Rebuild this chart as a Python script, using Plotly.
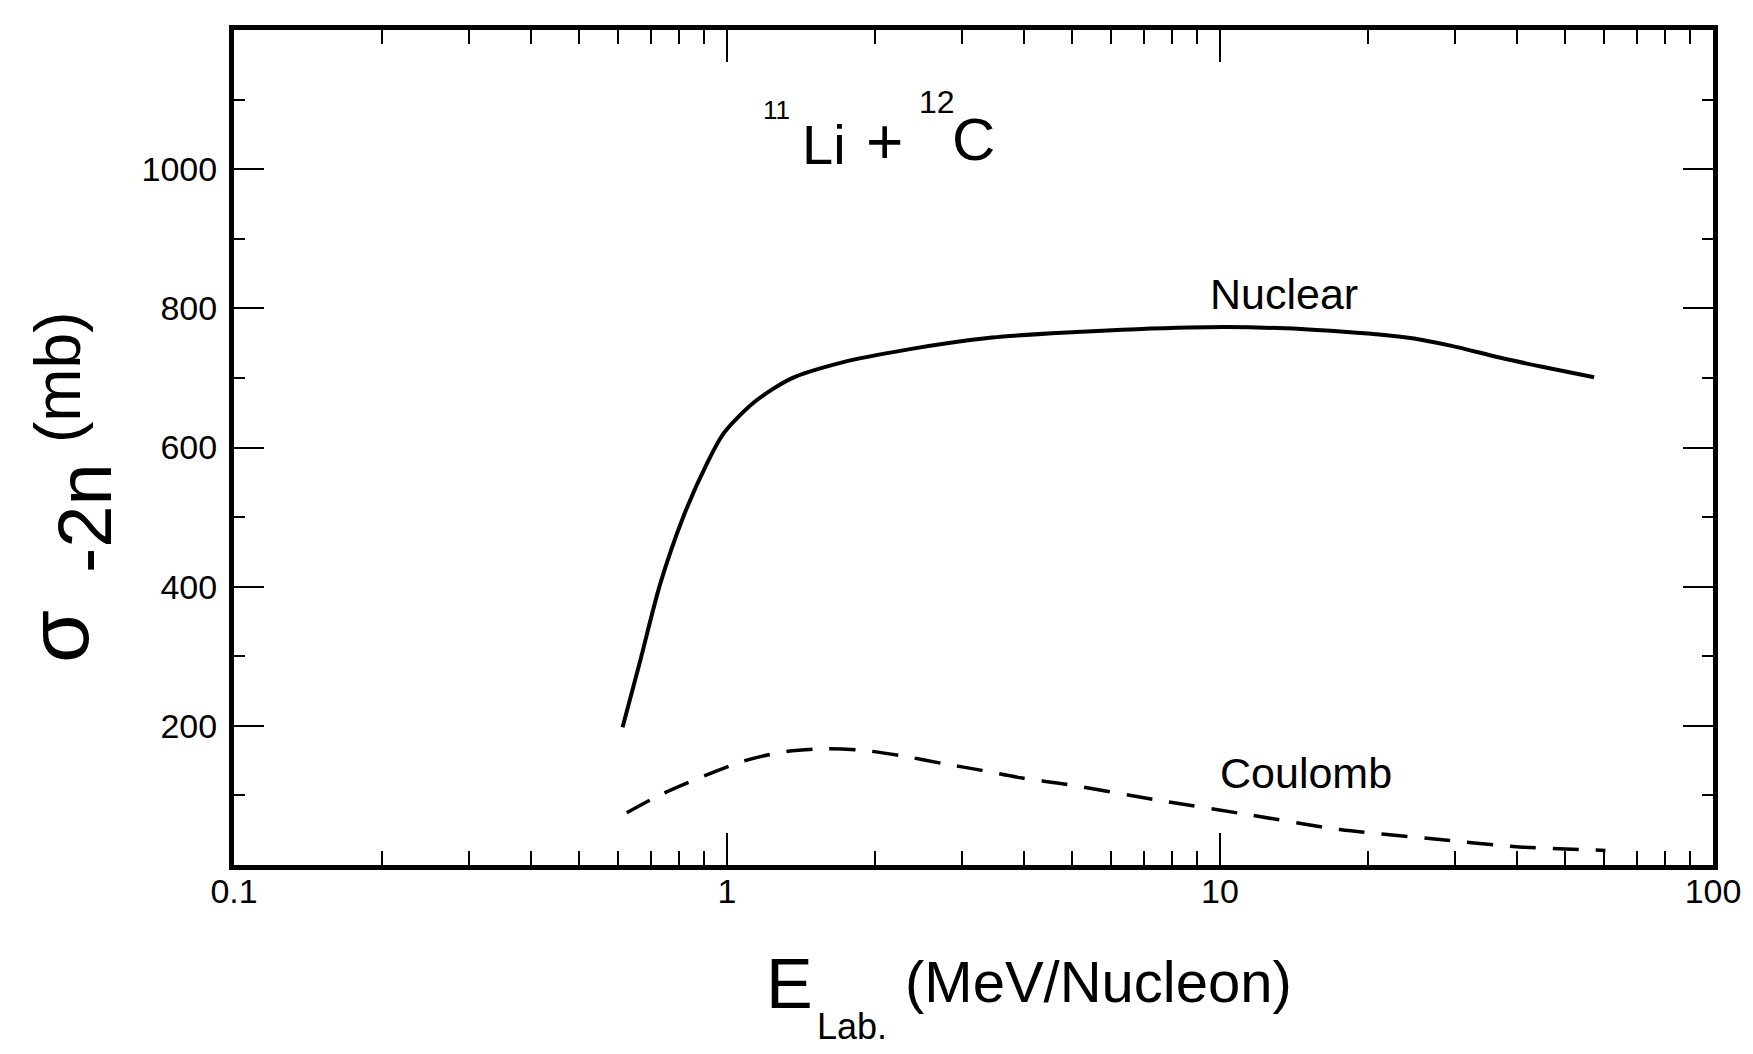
import plotly.graph_objects as go

# ---- data ----
nuclear_E = [0.614, 0.667, 0.732, 0.817, 0.912, 0.986, 1.135, 1.349, 1.706, 2.334,
             3.45, 5.11, 6.77, 10.3, 15.7, 23.9, 29.5, 36.5, 45.0, 57.4]
nuclear_sigma = [198, 294, 404, 502, 578, 621, 665, 699, 722, 741,
                 758, 766, 770, 773, 769, 758, 746, 730, 716, 701]

coulomb_E = [0.626, 0.733, 0.87, 1.066, 1.287, 1.578, 1.875, 2.26, 2.73, 3.29,
             3.97, 4.87, 7.52, 11.5, 17.5, 26.6, 40.5, 60.5]
coulomb_sigma = [75, 101, 124, 148, 162, 167, 165, 157, 146, 136,
                 125, 116, 93, 72, 51, 38, 26, 21]

x_tickvals = [0.1, 1, 10, 100]
x_ticktext = ["0.1", "1", "10", "100"]
x_minor = [m * d for d in (0.1, 1, 10) for m in range(2, 10)]
y_tickvals = [200, 400, 600, 800, 1000]
y_ticktext = ["200", "400", "600", "800", "1000"]
y_minor = [100, 300, 500, 700, 900, 1100]

FONT = "Liberation Sans, Arial, sans-serif"

fig = go.Figure()
fig.add_trace(go.Scatter(x=nuclear_E, y=nuclear_sigma, mode="lines",
                         line=dict(color="black", width=4, shape="spline", smoothing=0.8),
                         name="Nuclear", showlegend=False))
fig.add_trace(go.Scatter(x=coulomb_E, y=coulomb_sigma, mode="lines",
                         line=dict(color="black", width=3.5, dash="26px,17px",
                                   shape="spline", smoothing=0.8),
                         name="Coulomb", showlegend=False))

fig.update_xaxes(type="log", range=[-1, 2], tickvals=x_tickvals, ticktext=x_ticktext,
                 ticks="inside", ticklen=32, tickwidth=2, tickcolor="black",
                 showline=True, linewidth=5, linecolor="black", mirror="allticks",
                 showgrid=False, zeroline=False, ticklabelstandoff=-8,
                 minor=dict(ticks="inside", ticklen=14, tickwidth=2, tickcolor="black",
                            tickvals=x_minor, showgrid=False),
                 tickfont=dict(family=FONT, size=34, color="black"))
fig.update_yaxes(range=[0, 1200], tickvals=y_tickvals, ticktext=y_ticktext,
                 ticks="inside", ticklen=30, tickwidth=2, tickcolor="black",
                 showline=True, linewidth=5, linecolor="black", mirror="allticks",
                 showgrid=False, zeroline=False, ticklabelstandoff=5,
                 minor=dict(ticks="inside", ticklen=11, tickwidth=2, tickcolor="black",
                            tickvals=y_minor, showgrid=False),
                 tickfont=dict(family=FONT, size=34, color="black"))

L, R, T, B = 234, 40, 30, 189
PW, PH = 1753 - L - R, 1054 - T - B


def px(X):
    return (X - L) / PW


def py(Y):
    return (1054 - B - Y) / PH


def txt(text, X, Y, size, angle=0):
    return dict(text=text, xref="paper", yref="paper", x=px(X), y=py(Y), showarrow=False,
                xanchor="center", yanchor="middle", textangle=angle,
                font=dict(family=FONT, size=size, color="black"))


annotations = [
    # reaction label  11Li + 12C
    txt("11", 776, 110, 26),
    txt("Li", 824, 144, 56),
    txt("+", 884, 142, 64),
    txt("12", 937, 102, 32),
    txt("C", 973, 139, 60),
    # curve labels
    txt("Nuclear", 1284, 294, 43),
    txt("Coulomb", 1306, 773, 43),
    # x axis title  E_Lab.(MeV/Nucleon)
    txt("E", 789, 984, 70),
    txt("Lab.", 852, 1026, 36),
    txt("(MeV/Nucleon)", 1098, 981, 58),
    # y axis title  sigma_-2n (mb)
    txt("σ", 58, 637, 86, angle=-90),
    txt("-2n", 84, 518, 76, angle=-90),
    txt("(mb)", 58, 377, 64, angle=-90),
]

fig.update_layout(width=1753, height=1054, paper_bgcolor="white", plot_bgcolor="white",
                  margin=dict(l=L, r=R, t=T, b=B), annotations=annotations,
                  showlegend=False)

fig.write_html("out.html", config={"displayModeBar": False},
               post_script="document.body.style.margin='0';document.body.style.overflow='hidden';")
